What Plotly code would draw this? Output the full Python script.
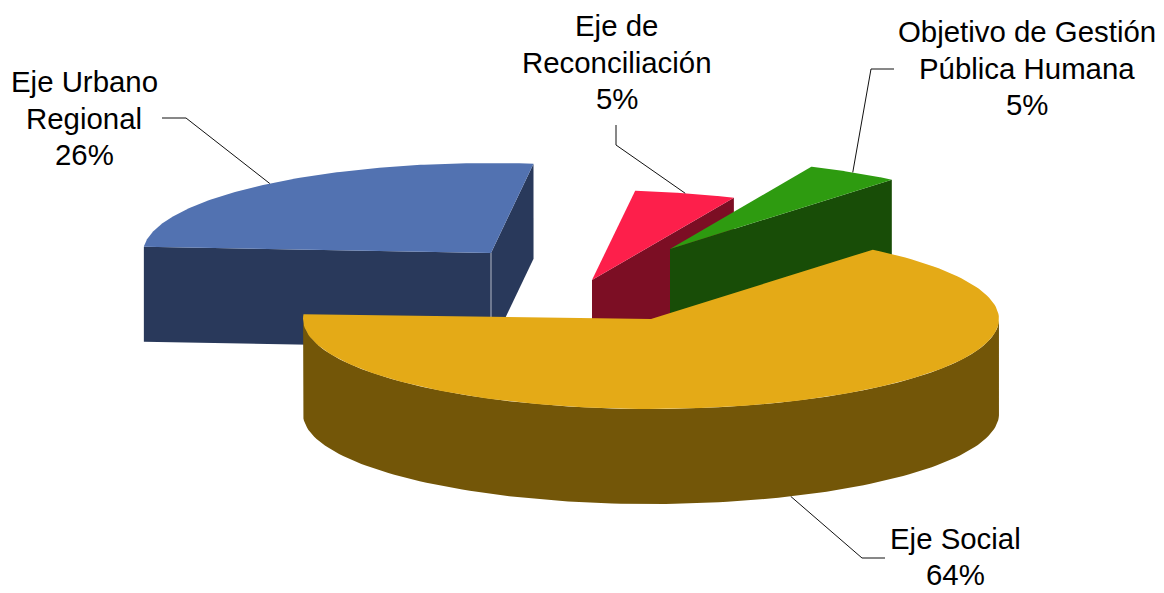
import numpy as np
import plotly.graph_objects as go

# Data (clockwise from the start angle)
names = ["Eje Social", "Eje Urbano<br>Regional", "Eje de<br>Reconciliación", "Objetivo de Gestión<br>Pública Humana"]
values = [64.4, 25.8, 4.9, 4.9]
shown = [64, 26, 5, 5]

# Projection / style
START = 50.4
RX, RY, DEPTH = 348, 90, 95
centers = [(651, 319), (491, 253), (592, 280), (670, 249)]
# small perspective correction of each slice's start/end angle (degrees)
perspective = [(0, -1.6), (-2.6, -2.7), (-2.7, -2.1), (-1.8, 0)]
top_col = ["#E4AA17", "#5272B1", "#FD1F4B", "#2E9B10"]
side_col = ["#735608", "#29395B", "#7C0E24", "#184D07"]
label_xy = [(955, 538), (84, 81.5), (616.5, 25.5), (1026.5, 31.5)]
LINE_STEP = 36.7
FONT_SIZE = 29.4
elbows = [[(862, 558), (885, 558)], [(186, 118), (162, 118)], [(616, 145), (616, 125)], [(871, 69), (894, 69)]]
draw_order = [1, 2, 3, 0]


def pt(c, deg, dz=0):
    a = np.radians(deg)
    return c[0] + RX * np.cos(a), c[1] - RY * np.sin(a) + dz


fig = go.Figure()


def poly(xs, ys, color):
    fig.add_trace(go.Scatter(x=list(xs) + [xs[0]], y=list(ys) + [ys[0]], mode="lines", fill="toself",
                             fillcolor=color, line=dict(color=color, width=0),
                             hoverinfo="skip", showlegend=False))


bounds = []
a = START
for v, (n0, n1) in zip(values, perspective):
    b = a - v * 3.6
    bounds.append((a + n0, b + n1))
    a = b

for i in draw_order:
    c = centers[i]
    a0, a1 = bounds[i]
    th = np.linspace(a0, a1, 160)
    # radial wall on the clockwise side
    if i != 0:
        p = pt(c, a1)
        poly([c[0], p[0], p[0], c[0]], [c[1], p[1], p[1] + DEPTH, c[1] + DEPTH], side_col[i])
    if i == 1:
        p = pt(c, a0)
        poly([c[0], p[0], p[0], c[0]], [c[1], p[1], p[1] + DEPTH, c[1] + DEPTH], side_col[i])
        fig.add_trace(go.Scatter(x=[c[0], c[0]], y=[c[1], c[1] + DEPTH], mode="lines",
                                 line=dict(color="#B4BAC8", width=1), hoverinfo="skip", showlegend=False))
    # outer wall of the lower half
    low = th[np.sin(np.radians(th)) <= 0]
    if len(low):
        x1, y1 = pt(c, low)
        x2, y2 = pt(c, low[::-1], DEPTH)
        poly(np.r_[x1, x2], np.r_[y1, y2], side_col[i])
    x, y = pt(c, th)
    poly(np.r_[c[0], x], np.r_[c[1], y], top_col[i])

# Leader lines and labels
for i in range(4):
    a0, a1 = bounds[i]
    mid = (a0 + a1) / 2
    dz = DEPTH if np.sin(np.radians(mid)) < 0 else 0
    p = pt(centers[i], mid, dz)
    fig.add_trace(go.Scatter(x=[p[0]] + [e[0] for e in elbows[i]], y=[p[1]] + [e[1] for e in elbows[i]],
                             mode="lines", line=dict(color="#111111", width=1), hoverinfo="skip", showlegend=False))
    lines = names[i].split("<br>") + [f"{shown[i]}%"]
    for k, line in enumerate(lines):
        fig.add_annotation(x=label_xy[i][0], y=label_xy[i][1] + k * LINE_STEP, text=line, showarrow=False,
                           xanchor="center", yanchor="middle", align="center",
                           font=dict(family="Liberation Sans, Arial, sans-serif", size=FONT_SIZE, color="#000000"))

axis = dict(visible=False, fixedrange=True)
fig.update_layout(width=1164, height=593, margin=dict(l=0, r=0, t=0, b=0), paper_bgcolor="white", plot_bgcolor="white",
                  xaxis=dict(range=[0, 1164], **axis), yaxis=dict(range=[593, 0], **axis))
fig.write_html("out.html", config={"displayModeBar": False},
               post_script="document.body.style.margin='0';document.body.style.overflow='hidden';")
